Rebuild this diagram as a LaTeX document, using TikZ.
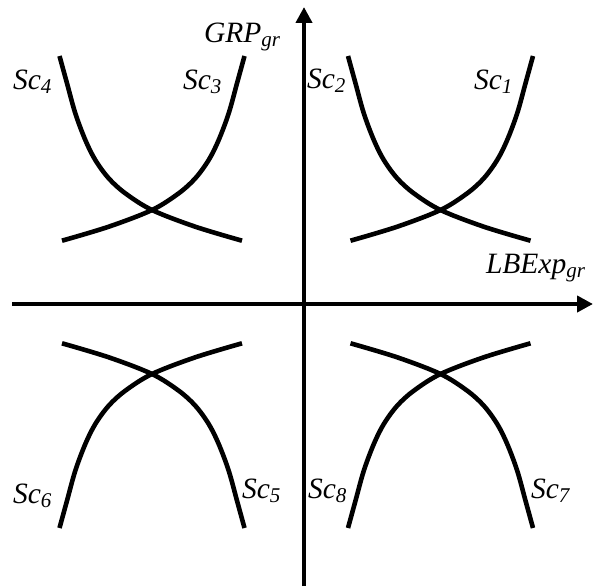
\documentclass[tikz,border=0pt]{standalone}
\usepackage{fontspec}
\setmainfont{Liberation Serif}
\usetikzlibrary{arrows.meta}
\newcommand\lbl[2]{\fontsize{29.5}{29.5}\selectfont\itshape #1\raisebox{-4pt}{\fontsize{21}{21}\selectfont\itshape #2}}
\tikzset{
  curve/.style={line width=4.6pt, line join=round},
  axis/.style={line width=4.8pt, -{Triangle[length=16pt,width=16pt]}},
  lab/.style={anchor=base west, inner sep=0pt, outer sep=0pt},
  sccurve/.pic={\draw[curve] plot[smooth, tension=0.55] coordinates {(-90,30.7) (-43.3,16.7) (0,0) (26.7,-16.7) (43.3,-31.7) (56.7,-50) (66.7,-70) (76.7,-96.7) (85,-126.7) (92.5,-154)};}
}
\begin{document}
\begin{tikzpicture}[x=1pt, y=-1pt]
\useasboundingbox (0,0) rectangle (593,586);
% axes
\coordinate (xs) at (12,304);
\coordinate (xe) at (593,304);
\coordinate (ys) at (304,586);
\coordinate (ye) at (304,7);
\draw[axis] (xs) -- (xe);
\draw[axis] (ys) -- (ye);
% curves, quadrant 1
\pic at (440.5,210) {sccurve};
\pic[xscale=-1] at (440.5,210) {sccurve};
% quadrant 2
\pic at (152,210) {sccurve};
\pic[xscale=-1] at (152,210) {sccurve};
% quadrant 3
\pic[yscale=-1] at (152,374) {sccurve};
\pic[xscale=-1,yscale=-1] at (152,374) {sccurve};
% quadrant 4
\pic[yscale=-1] at (440.5,374) {sccurve};
\pic[xscale=-1,yscale=-1] at (440.5,374) {sccurve};
% labels
\node[lab] (grp) at (204,42) {\lbl{GRP}{gr}};
\node[lab] (lbe) at (486,273) {\lbl{LBExp}{gr}};
\node[lab] (s4) at (13,89) {\lbl{Sc}{4}};
\node[lab] (s3) at (183,89) {\lbl{Sc}{3}};
\node[lab] (s2) at (307,88) {\lbl{Sc}{2}};
\node[lab] (s1) at (474,89) {\lbl{Sc}{1}};
\node[lab] (s6) at (13,503) {\lbl{Sc}{6}};
\node[lab] (s5) at (242,498) {\lbl{Sc}{5}};
\node[lab] (s8) at (308,498) {\lbl{Sc}{8}};
\node[lab] (s7) at (531,498) {\lbl{Sc}{7}};
\end{tikzpicture}
\end{document}
